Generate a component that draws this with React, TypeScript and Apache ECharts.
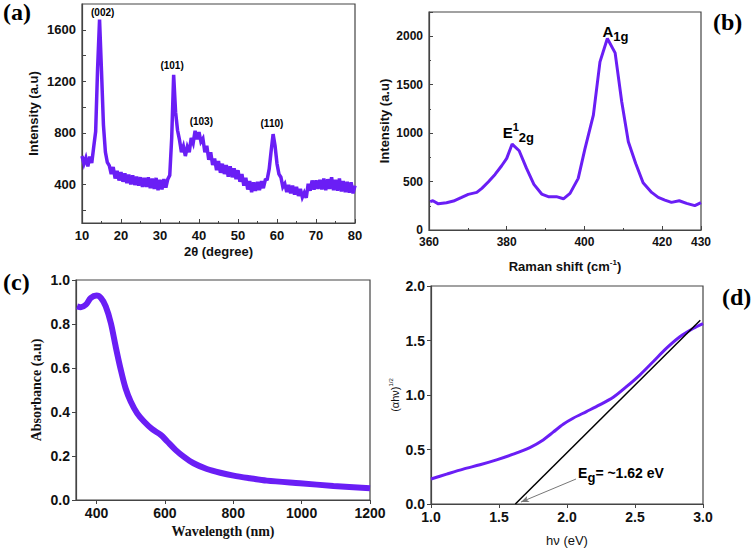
import React, { useEffect, useRef } from "react";
import * as echarts from "echarts";

// ---------- (a) XRD ----------
const xrdData: [number, number][] = [
  [10, 620], [10.5, 560], [11, 605], [11.5, 540], [12, 615], [12.5, 565], [13, 690], [13.5, 810],
  [14, 1300], [14.5, 1680], [15, 1280], [15.5, 860], [16, 650], [16.5, 570], [17, 545], [17.5, 480],
  [18, 535], [18.5, 445], [19, 505], [19.5, 430], [20, 495], [20.5, 420], [21, 485], [21.5, 410],
  [22, 475], [22.5, 400], [23, 470], [23.5, 395], [24, 460], [24.5, 390], [25, 455], [25.5, 380],
  [26, 450], [26.5, 380], [27, 455], [27.5, 370], [28, 445], [28.5, 365], [29, 450], [29.5, 355],
  [30, 435], [30.5, 360], [31, 440], [31.5, 375], [32, 440], [32.5, 470], [33, 760], [33.5, 1250],
  [34, 960], [34.5, 820], [35, 745], [35.5, 650], [36, 695], [36.5, 620], [37, 690], [37.5, 650],
  [38, 760], [38.5, 720], [39, 815], [39.5, 750], [40, 805], [40.5, 730], [41, 755], [41.5, 650],
  [42, 700], [42.5, 590], [43, 650], [43.5, 550], [44, 600], [44.5, 510], [45, 580], [45.5, 490],
  [46, 560], [46.5, 480], [47, 550], [47.5, 460], [48, 540], [48.5, 455], [49, 525], [49.5, 440],
  [50, 510], [50.5, 420], [51, 480], [51.5, 390], [52, 450], [52.5, 360], [53, 425], [53.5, 340],
  [54, 415], [54.5, 350], [55, 420], [55.5, 355], [56, 425], [56.5, 370], [57, 435], [57.5, 440],
  [58, 520], [58.5, 660], [59, 790], [59.5, 700], [60, 560], [60.5, 480], [61, 455], [61.5, 380],
  [62, 405], [62.5, 340], [63, 395], [63.5, 330], [64, 390], [64.5, 320], [65, 380], [65.5, 310],
  [66, 365], [66.5, 300], [67, 335], [67.5, 295], [68, 405], [68.5, 350], [69, 430], [69.5, 360],
  [70, 430], [70.5, 365], [71, 435], [71.5, 360], [72, 445], [72.5, 355], [73, 440], [73.5, 365],
  [74, 455], [74.5, 355], [75, 435], [75.5, 350], [76, 445], [76.5, 345], [77, 425], [77.5, 340],
  [78, 420], [78.5, 335], [79, 415], [79.5, 330], [80, 390],
];
const xrdPeakNames = ["(002)", "(101)", "(103)", "(110)"];
const xrdPeakX = [15.3, 33.1, 40.6, 58.7];
const xrdPeakY = [1731, 1323, 885, 873];
const xrdYLabels = [400, 800, 1200, 1600];
const xrdYTicks = [200, 400, 600, 800, 1000, 1200, 1400, 1600];

// ---------- (b) Raman ----------
const ramanShift = [
  360.3, 361, 362.4, 364.5, 366.3, 368.4, 370.1, 372.3, 373.6, 375.3, 377, 378.7, 380, 381.4,
  383.2, 385.1, 387, 389, 390.7, 392.8, 394.6, 396.3, 398.4, 400.1, 402.3, 404, 405.9, 407.9,
  409.6, 411.3, 413.2, 415.1, 417.3, 419, 420.7, 422.4, 424.4, 426.3, 428.4, 430,
];
const ramanIntensity = [
  292, 302, 270, 282, 299, 337, 368, 388, 430, 498, 574, 663, 739, 887,
  818, 636, 471, 371, 344, 344, 322, 378, 533, 832, 1186, 1735, 1976, 1828,
  1323, 911, 687, 488, 388, 337, 309, 285, 302, 275, 251, 282,
];

// ---------- (c) UV-vis ----------
const uvWavelength = [
  343, 354, 369, 383, 400, 413, 427, 442, 456, 471, 485, 500, 519, 539, 563, 588, 607, 631,
  655, 684, 723, 762, 801, 849, 898, 995, 1093, 1200,
];
const uvAbsorbance = [
  0.88, 0.876, 0.888, 0.918, 0.929, 0.918, 0.88, 0.804, 0.698, 0.592, 0.508, 0.448, 0.394,
  0.357, 0.322, 0.296, 0.266, 0.228, 0.197, 0.167, 0.141, 0.124, 0.111, 0.099, 0.088, 0.076,
  0.064, 0.053,
];
const uvXLabels = [400, 600, 800, 1000, 1200];

// ---------- (d) Tauc ----------
const taucEnergy = [
  1.0, 1.115, 1.237, 1.36, 1.482, 1.605, 1.727, 1.825, 1.898, 1.972, 2.045, 2.143, 2.24, 2.34,
  2.437, 2.535, 2.633, 2.73, 2.83, 2.927, 3.0,
];
const taucValue = [
  0.229, 0.274, 0.32, 0.36, 0.405, 0.457, 0.518, 0.588, 0.659, 0.732, 0.787, 0.848, 0.909,
  0.979, 1.076, 1.183, 1.305, 1.427, 1.534, 1.61, 1.655,
];
const fitX = [1.62, 2.98];
const fitY = [0, 1.686];
const arrowFrom = [2.066, 0.229];
const arrowTo = [1.662, 0.018];
const egLabelPos = [2.397, 0.284];

const PURPLE = "#6a1ef5";
const SANS = '"Liberation Sans", Arial, sans-serif';
const SERIF = '"Liberation Serif", "Times New Roman", serif';
const AXIS_COLOR = "#444";
const NO_STROKE = { textBorderWidth: 0, textBorderColor: "transparent", textShadowBlur: 0, opacity: 1 };

function baseLabel(size: number) {
  return {
    color: "#111",
    fontFamily: SANS,
    fontWeight: "bold",
    fontSize: size,
    margin: 6,
    formatter: (v: number) => String(v),
  } as any;
}

function baseAxis(gridIndex: number, labelSize: number, tickInside: boolean) {
  return {
    type: "value",
    gridIndex,
    splitLine: { show: false },
    axisLine: { show: true, onZero: false, lineStyle: { color: AXIS_COLOR, width: 1.2 } },
    axisTick: { show: true, inside: tickInside, length: 4, lineStyle: { color: AXIS_COLOR } },
    minorTick: { show: false },
    axisLabel: baseLabel(labelSize),
    nameLocation: "middle",
  } as any;
}

export default function App() {
  const ref = useRef<HTMLDivElement>(null);
  useEffect(() => {
    if (!ref.current) return;
    const chart = echarts.init(ref.current, undefined, { renderer: "svg" });

    const supRich = {
      sup: { fontSize: 8, fontFamily: SANS, fontWeight: "bold", padding: [0, 0, 9, 0], color: "#111" },
    };
    const oneDec = (v: number) => v.toFixed(1);

    const xAxes = [
      {
        ...baseAxis(0, 13, true),
        min: 10, max: 80, interval: 10,
        minorTick: { show: true, splitNumber: 2, length: 2, lineStyle: { color: AXIS_COLOR } },
        name: "2θ (degree)", nameGap: 22,
        nameTextStyle: { fontFamily: SANS, fontWeight: "bold", fontSize: 13, color: "#111" },
      },
      {
        ...baseAxis(1, 12, true),
        min: 360, max: 430, interval: 20,
        minorTick: { show: true, splitNumber: 2, length: 2, lineStyle: { color: AXIS_COLOR } },
        name: "Raman shift (cm{sup|-1})", nameGap: 28,
        nameTextStyle: { fontFamily: SANS, fontWeight: "bold", fontSize: 13, color: "#111", rich: supRich },
      },
      {
        ...baseAxis(2, 14, false),
        min: 340, max: 1200,
        axisLabel: { ...baseLabel(14), customValues: uvXLabels },
        axisTick: { show: true, length: 4, customValues: uvXLabels, lineStyle: { color: AXIS_COLOR } },
        name: "Wavelength (nm)", nameGap: 24,
        nameTextStyle: { fontFamily: SERIF, fontWeight: "bold", fontSize: 14, color: "#111" },
      },
      {
        ...baseAxis(3, 14, false),
        min: 1, max: 3, interval: 0.5,
        axisLabel: { ...baseLabel(14), formatter: oneDec },
        name: "hν (eV)", nameGap: 30,
        nameTextStyle: { fontFamily: SANS, fontSize: 13, color: "#111" },
      },
    ];

    const yAxes = [
      {
        ...baseAxis(0, 13, true),
        min: 100, max: 1800,
        axisLabel: { ...baseLabel(13), customValues: xrdYLabels },
        axisTick: { show: true, inside: true, length: 4, customValues: xrdYTicks, lineStyle: { color: AXIS_COLOR } },
        name: "Intensity (a.u)", nameGap: 42,
        nameTextStyle: { fontFamily: SANS, fontWeight: "bold", fontSize: 13, color: "#111" },
      },
      {
        ...baseAxis(1, 12, true),
        min: 0, max: 2250, interval: 500,
        axisLabel: { ...baseLabel(12), showMaxLabel: false },
        minorTick: { show: true, splitNumber: 2, length: 2, lineStyle: { color: AXIS_COLOR } },
        name: "Intensity (a.u)", nameGap: 38,
        nameTextStyle: { fontFamily: SANS, fontWeight: "bold", fontSize: 13, color: "#111" },
      },
      {
        ...baseAxis(2, 14, false),
        min: 0, max: 1, interval: 0.2,
        axisLabel: { ...baseLabel(14), formatter: oneDec },
        name: "Absorbance (a.u)", nameGap: 33,
        nameTextStyle: { fontFamily: SERIF, fontWeight: "bold", fontSize: 14, color: "#111" },
      },
      {
        ...baseAxis(3, 14, false),
        min: 0, max: 2, interval: 0.5,
        axisLabel: { ...baseLabel(14), formatter: oneDec },
        name: "(αhν){s|1/2}", nameGap: 30,
        nameTextStyle: {
          fontFamily: SANS, fontSize: 11, color: "#111",
          rich: { s: { fontSize: 6, fontFamily: SANS, padding: [0, 0, 7, 0], color: "#111" } },
        },
      },
    ];

    const gridStyle = { show: true, borderColor: AXIS_COLOR, borderWidth: 1.2, containLabel: false };
    const annotItem = { opacity: 1, color: "transparent" };

    const option: any = {
      animation: false,
      backgroundColor: "#fff",
      grid: [
        { ...gridStyle, left: 82, top: 4, width: 273, height: 219 },
        { ...gridStyle, left: 429, top: 12, width: 272, height: 218 },
        { ...gridStyle, left: 76, top: 280, width: 294, height: 220 },
        { ...gridStyle, left: 431, top: 286, width: 272, height: 218 },
      ],
      xAxis: xAxes,
      yAxis: yAxes,
      series: [
        {
          type: "line", xAxisIndex: 0, yAxisIndex: 0, data: xrdData, showSymbol: false,
          lineStyle: { color: PURPLE, width: 3.5, join: "miter" }, silent: true,
        },
        {
          type: "scatter", xAxisIndex: 0, yAxisIndex: 0, symbolSize: 0, silent: true, itemStyle: annotItem,
          data: xrdPeakX.map((x, i) => ({ value: [x, xrdPeakY[i]], name: xrdPeakNames[i] })),
          label: {
            show: true, position: "inside", formatter: (p: any) => p.name,
            fontFamily: SANS, fontWeight: "bold", fontSize: 10, color: "#000", ...NO_STROKE,
          },
        },
        {
          type: "line", xAxisIndex: 1, yAxisIndex: 1, showSymbol: false, silent: true,
          data: ramanShift.map((x, i) => [x, ramanIntensity[i]]),
          lineStyle: { color: PURPLE, width: 3 },
        },
        {
          type: "scatter", xAxisIndex: 1, yAxisIndex: 1, symbolSize: 0, silent: true, itemStyle: annotItem,
          data: [
            { value: [408, 2045], name: "{b|A}{sub|1g}" },
            { value: [383, 1010], name: "{b|E}{sup|1}{sub|2g}" },
          ],
          label: {
            show: true, position: "inside", formatter: (p: any) => p.name, color: "#000", ...NO_STROKE,
            rich: {
              b: { fontFamily: SANS, fontWeight: "bold", fontSize: 15, color: "#000", ...NO_STROKE },
              sub: { fontFamily: SANS, fontWeight: "bold", fontSize: 13, color: "#000", padding: [10, 0, 0, 0], ...NO_STROKE },
              sup: { fontFamily: SANS, fontWeight: "bold", fontSize: 11, color: "#000", padding: [0, 0, 10, 0], ...NO_STROKE },
            },
          },
        },
        {
          type: "line", xAxisIndex: 2, yAxisIndex: 2, showSymbol: false, silent: true, smooth: 0.3,
          data: uvWavelength.map((x, i) => [x, uvAbsorbance[i]]),
          lineStyle: { color: PURPLE, width: 6 },
        },
        {
          type: "line", xAxisIndex: 3, yAxisIndex: 3, showSymbol: false, silent: true, smooth: 0.3,
          data: taucEnergy.map((x, i) => [x, taucValue[i]]),
          lineStyle: { color: PURPLE, width: 3 },
        },
        {
          type: "line", xAxisIndex: 3, yAxisIndex: 3, showSymbol: false, silent: true,
          data: fitX.map((x, i) => [x, fitY[i]]),
          lineStyle: { color: "#000", width: 1.5 },
          markLine: {
            silent: true, symbol: ["none", "arrow"], symbolSize: [5, 8],
            label: { show: false },
            lineStyle: { color: "#777", width: 1, type: "solid" },
            data: [[{ coord: arrowFrom }, { coord: arrowTo }]],
          },
        },
        {
          type: "scatter", xAxisIndex: 3, yAxisIndex: 3, symbolSize: 0, silent: true, itemStyle: annotItem,
          data: [{ value: egLabelPos, name: "{b|E}{sub|g}{b|= ~1.62 eV}" }],
          label: {
            show: true, position: "inside", formatter: (p: any) => p.name, color: "#000", ...NO_STROKE,
            rich: {
              b: { fontFamily: SANS, fontWeight: "bold", fontSize: 14, color: "#000", ...NO_STROKE },
              sub: { fontFamily: SANS, fontWeight: "bold", fontSize: 13, color: "#000", padding: [9, 0, 0, 0], ...NO_STROKE },
            },
          },
        },
      ],
      graphic: [
        { type: "text", left: 3, top: 0, style: { text: "(a)", fontFamily: SERIF, fontWeight: "bold", fontSize: 24, fill: "#000" } },
        { type: "text", left: 713, top: 10, style: { text: "(b)", fontFamily: SERIF, fontWeight: "bold", fontSize: 24, fill: "#000" } },
        { type: "text", left: 3, top: 270, style: { text: "(c)", fontFamily: SERIF, fontWeight: "bold", fontSize: 24, fill: "#000" } },
        { type: "text", left: 722, top: 285, style: { text: "(d)", fontFamily: SERIF, fontWeight: "bold", fontSize: 24, fill: "#000" } },
      ],
    };

    chart.setOption(option);
    return () => chart.dispose();
  }, []);

  return (
    <div
      ref={ref}
      style={{ position: "fixed", left: 0, top: 0, width: 753, height: 549, background: "#fff" }}
    />
  );
}
